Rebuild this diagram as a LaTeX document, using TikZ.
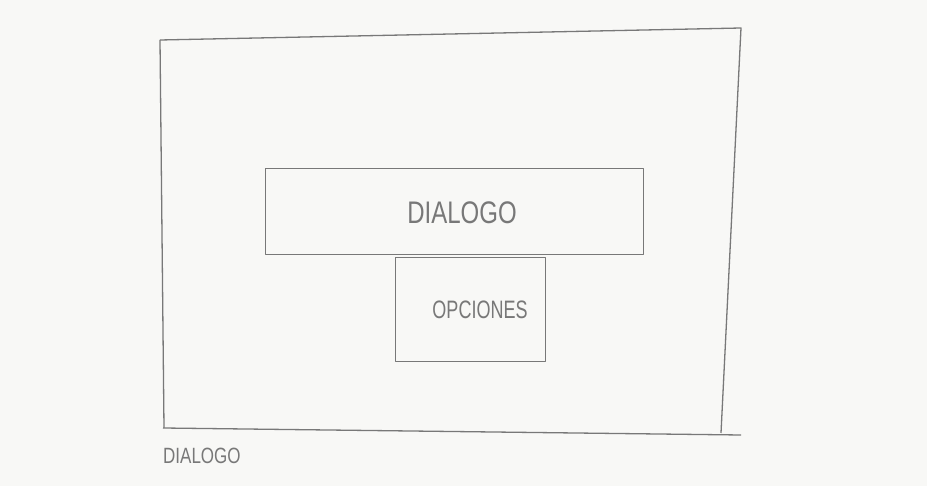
\documentclass[tikz,border=0pt]{standalone}
\usepackage{fontspec}
\setmainfont{Liberation Sans}
\definecolor{pencil}{RGB}{120,120,120}
\definecolor{paper}{RGB}{248,248,246}
\begin{document}
\begin{tikzpicture}[x=1pt,y=-1pt,
  sketch/.style={draw=pencil, line width=1.3pt, line join=round},
  lbl/.style={text=pencil, inner sep=0pt}]
\fill[paper] (0,0) rectangle (927,486);
\useasboundingbox (0,0) rectangle (927,486);
% outer frame
\coordinate (otl) at (160,40);
\coordinate (otr) at (741,28);
\coordinate (obr) at (721,433);
\coordinate (obl) at (164,428);
\draw[sketch] (otl) -- (otr) -- (obr);
\draw[sketch] (otl) -- (obl);
\draw[sketch] (163,428) -- (741,435);
% dialog box
\node[sketch, minimum width=378pt, minimum height=86pt, anchor=north west] (dlg) at (265,168) {};
\node[lbl, font=\fontsize{24}{24}\selectfont] (dlgt) at (462,213) {\scalebox{1}[1.3]{DIALOGO}};
% options box
\node[sketch, minimum width=150pt, minimum height=104pt, anchor=north west] (opc) at (395,257) {};
\node[lbl, font=\fontsize{18}{18}\selectfont] (opct) at (480,310) {\scalebox{1}[1.4]{OPCIONES}};
% caption
\node[lbl, font=\fontsize{17}{17}\selectfont, anchor=west] (cap) at (163,456) {\scalebox{1}[1.3]{DIALOGO}};
\end{tikzpicture}
\end{document}
